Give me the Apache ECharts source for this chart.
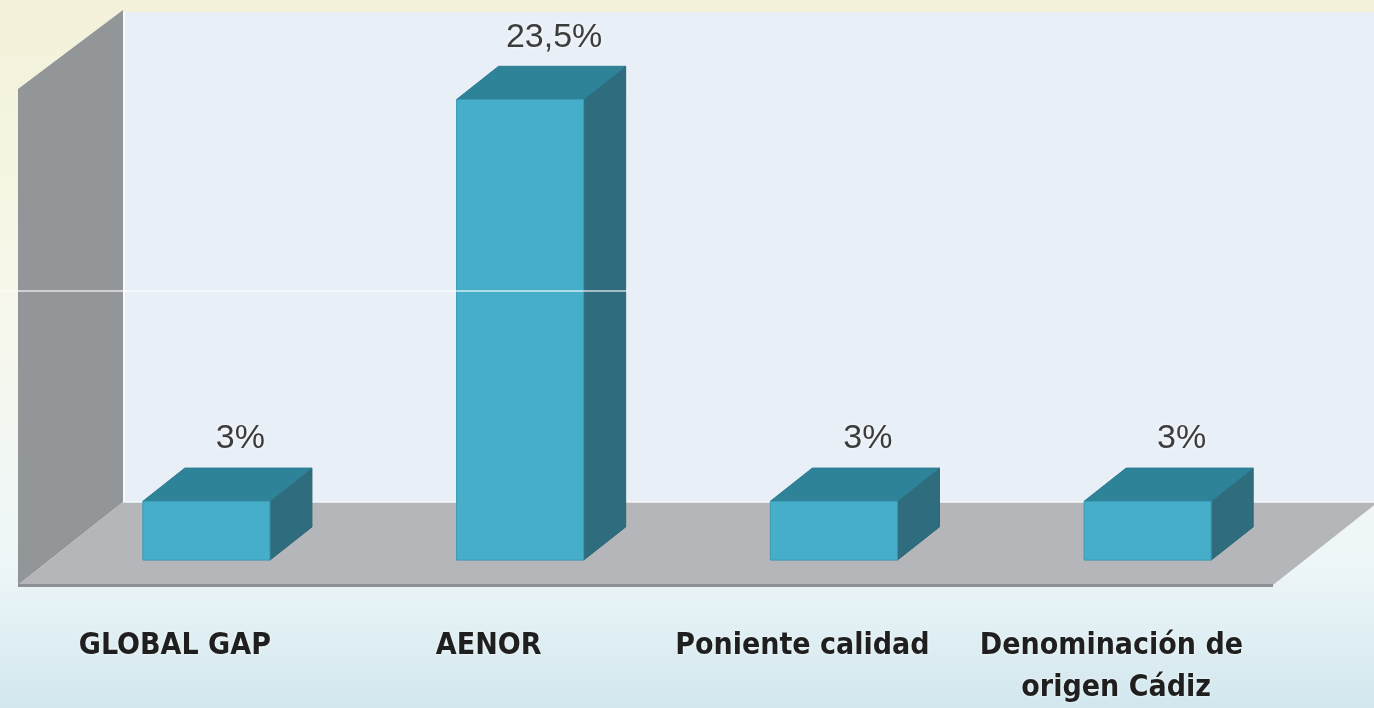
<!DOCTYPE html>
<html>
<head>
<meta charset="utf-8">
<script src="https://cdn.jsdelivr.net/npm/echarts@6/dist/echarts.min.js"></script>
<style>
html,body{margin:0;padding:0;width:1374px;height:708px;overflow:hidden;}
#chart{width:1374px;height:708px;}
</style>
</head>
<body>
<div id="chart"></div>
<script>
// ---- data ----
const categories = ['GLOBAL GAP', 'AENOR', 'Poniente calidad', 'Denominación de origen Cádiz'];
const values = [3, 23.5, 3, 3];
const axisMin = 0;
const axisMax = 25;

// ---- 3D look ----
const DEPTH = [105, -83];      // full depth of the floor (px)
const FRONT = 0.3, BACK = 0.7; // bar front/back depth fractions
const BAR_FRAC = 0.405;

const chart = echarts.init(document.getElementById('chart'));

function renderWalls(params, api) {
  const cs = params.coordSys;
  const dx = DEPTH[0], dy = DEPTH[1];
  const x0 = cs.x, x1 = cs.x + cs.width, yT = cs.y, yB = cs.y + cs.height;
  return {
    type: 'group',
    children: [
      { type: 'rect', shape: { x: x0 + dx, y: yT + dy, width: cs.width + 20, height: cs.height },
        style: { fill: '#E8EFF7' } },
      { type: 'line', shape: { x1: x0 + dx + 1, y1: yT + dy, x2: x0 + dx + 1, y2: yB + dy },
        style: { stroke: '#F8FBFD', lineWidth: 2 } },
      { type: 'polygon', shape: { points: [[x0, yB], [x0, yT - 6], [x0 + dx, yT + dy - 2], [x0 + dx, yB + dy]] },
        style: { fill: '#939699' } },
      { type: 'polygon', shape: { points: [[x0, yB], [x0 + dx, yB + dy], [x1 + dx, yB + dy], [x1, yB]] },
        style: { fill: '#B4B6B9' } },
      { type: 'line', shape: { x1: x0 + dx, y1: yB + dy, x2: x1 + dx, y2: yB + dy },
        style: { stroke: '#F4F7FA', lineWidth: 1.5 } },
      { type: 'rect', shape: { x: x0, y: yB - 1, width: cs.width, height: 3 },
        style: { fill: '#8E9093' } }
    ]
  };
}

function renderBar(params, api) {
  const idx = api.value(0);
  const val = api.value(1);
  const p0 = api.coord([idx, 0]);
  const p1 = api.coord([idx, val]);
  const bw = api.size([1, 0])[0] * BAR_FRAC;
  const dx = DEPTH[0], dy = DEPTH[1];
  const fx = FRONT * dx, fy = FRONT * dy, bx = BACK * dx, by = BACK * dy;
  const xl = p0[0] - bw / 2, xr = p0[0] + bw / 2;
  const y0 = p0[1], y1 = p1[1];
  const label = String(val).replace('.', ',') + '%';
  return {
    type: 'group',
    children: [
      { type: 'polygon', shape: { points: [[xr + fx, y1 + fy], [xr + bx, y1 + by], [xr + bx, y0 + by], [xr + fx, y0 + fy]] },
        style: { fill: '#2E6C7E', stroke: '#2A6576', lineWidth: 1 } },
      { type: 'polygon', shape: { points: [[xl + fx, y1 + fy], [xl + bx, y1 + by], [xr + bx, y1 + by], [xr + fx, y1 + fy]] },
        style: { fill: '#2F8399', stroke: '#2C7B90', lineWidth: 1 } },
      { type: 'rect', shape: { x: xl + fx, y: y1 + fy, width: bw, height: y0 - y1 },
        style: { fill: '#47AECA', stroke: '#3A9AB4', lineWidth: 1 } },
      { type: 'text', x: p0[0] + bx - 8, y: y1 + by - 12,
        style: { text: label, align: 'center', verticalAlign: 'bottom',
          font: '34px "Liberation Sans", Arial, sans-serif', fill: '#3c3c3c',
          textShadowColor: 'rgba(255,255,255,0.95)', textShadowBlur: 4 } }
    ]
  };
}

const option = {
  animation: false,
  backgroundColor: {
    type: 'linear', x: 0, y: 0, x2: 0, y2: 1,
    colorStops: [
      { offset: 0, color: '#F3F1D8' },
      { offset: 0.45, color: '#F7F8EC' },
      { offset: 0.8, color: '#EDF6F8' },
      { offset: 1, color: '#D2E7EE' }
    ]
  },
  grid: { left: 18, right: 101, top: 95, bottom: 123, containLabel: false, outerBoundsMode: 'none' },
  xAxis: {
    type: 'category',
    data: categories,
    axisLine: { show: false },
    axisTick: { show: false },
    splitLine: { show: false },
    axisLabel: {
      margin: 40,
      interval: 0,
      width: 290,
      overflow: 'break',
      lineHeight: 42,
      fontFamily: '"DejaVu Sans Condensed", "Liberation Sans Narrow", sans-serif',
      fontWeight: 'bold',
      fontSize: 30,
      color: '#1f1f1f',
      textShadowColor: 'rgba(255,255,255,0.8)',
      textShadowBlur: 3
    }
  },
  yAxis: {
    type: 'value', min: axisMin, max: axisMax,
    show: false, splitLine: { show: false }
  },
  graphic: [
    { type: 'line', z: 100, shape: { x1: 0, y1: 291, x2: 628, y2: 291 },
      style: { stroke: 'rgba(255,255,255,0.75)', lineWidth: 1.5 } }
  ],
  series: [
    { type: 'custom', renderItem: renderWalls, data: [[0, 0]], z: 1, silent: true },
    { type: 'custom', renderItem: renderBar, z: 2,
      data: values.map((v, i) => [i, v]) }
  ]
};
chart.setOption(option);
</script>
</body>
</html>
